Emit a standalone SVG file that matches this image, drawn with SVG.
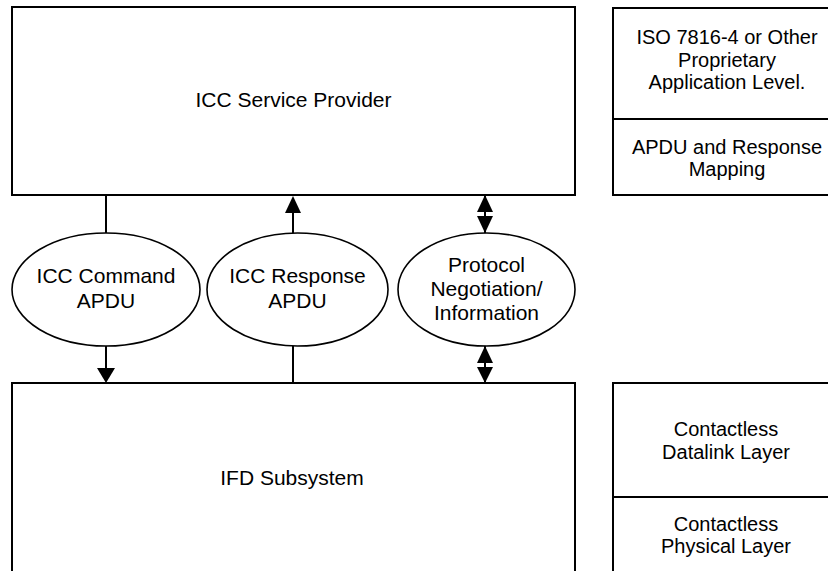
<svg xmlns="http://www.w3.org/2000/svg" width="828" height="571" viewBox="0 0 828 571">
<defs>
<style>
.box{fill:#fff;stroke:#000;stroke-width:2}
.ell{fill:#fff;stroke:#000;stroke-width:1.6}
.ln{stroke:#000;stroke-width:2;fill:none}
.ah{fill:#000;stroke:none}
text{font-family:"Liberation Sans",Arial,sans-serif;font-size:21px;fill:#000;text-anchor:middle}
.sm{font-size:20px}
</style>
</defs>
<rect width="828" height="571" fill="#fff"/>
<g id="connectors">
<line class="ln" x1="106" y1="195" x2="106" y2="233"/>
<line class="ln" x1="106" y1="346" x2="106" y2="370"/>
<polygon class="ah" points="97,368 115,368 106,383"/>
<line class="ln" x1="293" y1="233" x2="293" y2="211"/>
<polygon class="ah" points="285,213 301,213 293,196"/>
<line class="ln" x1="293" y1="346" x2="293" y2="383"/>
<line class="ln" x1="485" y1="195" x2="485" y2="233"/>
<polygon class="ah" points="485,195 477,212 493,212"/>
<polygon class="ah" points="477,216 493,216 485,233"/>
<line class="ln" x1="485" y1="346" x2="485" y2="383"/>
<polygon class="ah" points="485,346 477,363 493,363"/>
<polygon class="ah" points="477,367 493,367 485,383"/>
</g>
<g id="icc-service-provider">
<rect class="box" x="12" y="7" width="563" height="188"/>
<text x="293.5" y="107">ICC Service Provider</text>
</g>
<g id="ifd-subsystem">
<rect class="box" x="12" y="383" width="563" height="200"/>
<text x="292" y="485">IFD Subsystem</text>
</g>
<g id="icc-command-apdu">
<ellipse class="ell" cx="106" cy="289.5" rx="94" ry="56.5"/>
<text x="106" y="283">ICC Command</text>
<text x="106" y="308">APDU</text>
</g>
<g id="icc-response-apdu">
<ellipse class="ell" cx="297.5" cy="289.5" rx="90.5" ry="56.5"/>
<text x="297.5" y="283">ICC Response</text>
<text x="297.5" y="308">APDU</text>
</g>
<g id="protocol-negotiation">
<ellipse class="ell" cx="486.5" cy="289.5" rx="88.5" ry="56.5"/>
<text x="486.5" y="272">Protocol</text>
<text x="486.5" y="296">Negotiation/</text>
<text x="486.5" y="320">Information</text>
</g>
<g id="application-level">
<rect class="box" x="613" y="8" width="240" height="111"/>
<text class="sm" x="727" y="44">ISO 7816-4 or Other</text>
<text class="sm" x="727" y="66.5">Proprietary</text>
<text class="sm" x="727" y="89">Application Level.</text>
</g>
<g id="apdu-response-mapping">
<rect class="box" x="613" y="119" width="240" height="76"/>
<text class="sm" x="727" y="153.5">APDU and Response</text>
<text class="sm" x="727" y="176">Mapping</text>
</g>
<g id="datalink-layer">
<rect class="box" x="613" y="383" width="240" height="114"/>
<text class="sm" x="726" y="436">Contactless</text>
<text class="sm" x="726" y="458.5">Datalink Layer</text>
</g>
<g id="physical-layer">
<rect class="box" x="613" y="497" width="240" height="90"/>
<text class="sm" x="726" y="531">Contactless</text>
<text class="sm" x="726" y="553">Physical Layer</text>
</g>
</svg>
